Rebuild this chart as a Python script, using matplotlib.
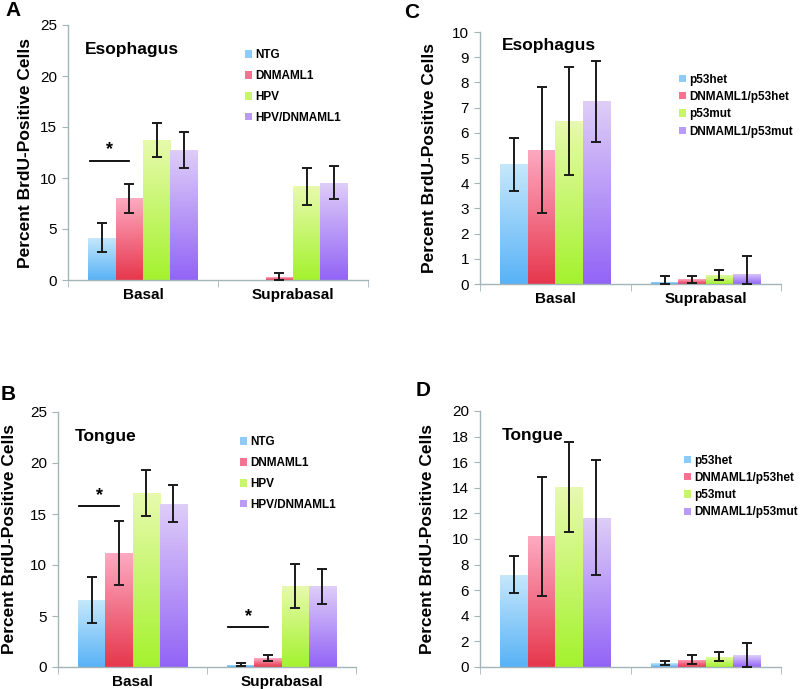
import numpy as np
import matplotlib
matplotlib.use("Agg")
from matplotlib import pyplot as plt
from matplotlib.colors import LinearSegmentedColormap
from matplotlib.patches import Patch

plt.rcParams['font.family'] = ['Liberation Sans', 'DejaVu Sans']

categories = ["Basal", "Suprabasal"]

# panel A - esophagus, HPV series
a_groups = ["NTG", "DNMAML1", "HPV", "HPV/DNMAML1"]
a_vals = [[4.15, 8.0, 13.75, 12.75], [0.0, 0.25, 9.2, 9.55]]
a_err = [[1.45, 1.45, 1.65, 1.75], [0.0, 0.4, 1.8, 1.65]]

# panel B - tongue, HPV series
b_groups = ["NTG", "DNMAML1", "HPV", "HPV/DNMAML1"]
b_vals = [[6.55, 11.15, 17.1, 16.0], [0.22, 0.88, 7.95, 7.9]]
b_err = [[2.25, 3.15, 2.25, 1.8], [0.15, 0.25, 2.15, 1.75]]

# panel C - esophagus, p53 series
c_groups = ["p53het", "DNMAML1/p53het", "p53mut", "DNMAML1/p53mut"]
c_vals = [[4.75, 5.32, 6.48, 7.25], [0.09, 0.18, 0.36, 0.40]]
c_err = [[1.05, 2.5, 2.15, 1.6], [0.23, 0.14, 0.21, 0.73]]

# panel D - tongue, p53 series
d_groups = ["p53het", "DNMAML1/p53het", "p53mut", "DNMAML1/p53mut"]
d_vals = [[7.22, 10.2, 14.05, 11.65], [0.31, 0.55, 0.80, 0.93]]
d_err = [[1.42, 4.65, 3.5, 4.5], [0.14, 0.35, 0.37, 0.95]]

# significance bars: (category index, height)
a_sig = [(0, 11.7)]
b_sig = [(0, 15.75), (1, 3.9)]

bottoms = ["#58B2F6", "#E6374D", "#A4F22E", "#9264F6"]
tops = ["#C6E8FC", "#FDAAC2", "#E8FAAE", "#DFCEF8"]
mids = ["#8FCBF8", "#F57390", "#C8F56A", "#B99AF6"]
axis_col = "#A3B5B8"


def draw_panel(fig, rect, groups, vals, errs, ymax, ystep, title, title_xy,
               leg_xy, leg_space, letter, letter_xy, ylab_x, sig=None,
               show_xlabels=True):
    ax = fig.add_axes(rect)
    n = len(groups)
    width = 0.73 / n
    x = np.arange(len(categories))
    vals = np.array(vals)
    errs = np.array(errs)
    grad = np.linspace(0, 1, 256).reshape(-1, 1)
    for j in range(n):
        pos = x - 0.365 + width * (j + 0.5)
        cmap = LinearSegmentedColormap.from_list("g%d" % j, [bottoms[j], tops[j]])
        bars = ax.bar(pos, vals[:, j], width, color="none", edgecolor="none")
        for b in bars:
            h = b.get_height()
            if h <= 0:
                continue
            im = ax.imshow(grad, cmap=cmap, origin="lower", aspect="auto",
                           extent=[b.get_x(), b.get_x() + b.get_width(), 0, h],
                           zorder=2)
            im.set_clip_path(b)
        lo = np.minimum(errs[:, j], vals[:, j])
        keep = errs[:, j] > 0
        ax.errorbar(pos[keep], vals[keep, j], yerr=[lo[keep], errs[keep, j]],
                    fmt="none", ecolor="#1a1a1a", elinewidth=1.4,
                    capsize=3.5, capthick=1.4, zorder=3)
    if sig:
        for ci, h in sig:
            x0 = ci - 0.365 + width * 0.05
            x1 = ci - 0.365 + width * 1.5
            ax.plot([x0, x1], [h, h], color="black", lw=1.3, zorder=3)
            ax.text((x0 + x1) / 2, h + ymax * 0.01, "*", ha="center",
                    va="bottom", fontsize=13, fontweight="bold")
    ax.set_xlim(-0.5, 1.5)
    ax.set_ylim(0, ymax)
    ax.set_yticks(np.arange(0, ymax + 0.01, ystep))
    ax.set_yticklabels([str(int(v)) for v in np.arange(0, ymax + 0.01, ystep)],
                       fontsize=11)
    ax.set_xticks(x)
    if show_xlabels:
        ax.set_xticklabels(categories, fontsize=11, fontweight="bold")
    else:
        ax.set_xticklabels(["", ""])
    ax.tick_params(axis="x", which="major", length=0, pad=6)
    ax.set_xticks([-0.5, 0.5, 1.5], minor=True)
    ax.tick_params(axis="x", which="minor", length=5, color=axis_col)
    ax.tick_params(axis="y", length=4, color=axis_col, pad=4)
    for s in ["top", "right"]:
        ax.spines[s].set_visible(False)
    for s in ["left", "bottom"]:
        ax.spines[s].set_color(axis_col)
        ax.spines[s].set_linewidth(1.0)
    ax.set_ylabel("Percent BrdU-Positive Cells", fontsize=12.5,
                  fontweight="bold")
    ax.yaxis.set_label_coords(ylab_x, 0.5)
    ax.text(title_xy[0], title_xy[1], title, transform=ax.transAxes,
            fontsize=12.5, fontweight="bold", va="center", ha="left")
    handles = [Patch(facecolor=mids[j], edgecolor="none") for j in range(n)]
    leg = ax.legend(handles, groups, loc="upper left", bbox_to_anchor=leg_xy,
                    frameon=False, fontsize=8.5, handlelength=0.6,
                    handleheight=0.6, handletextpad=0.25, borderpad=0,
                    borderaxespad=0, labelspacing=leg_space)
    for t in leg.get_texts():
        t.set_fontweight("bold")
    fig.text(letter_xy[0], letter_xy[1], letter, fontsize=15,
             fontweight="bold", va="center", ha="left")
    return ax


fig = plt.figure(figsize=(8, 6.89), dpi=100)
H = 689.0

draw_panel(fig, [68 / 800, 1 - 280 / H, 300 / 800, 255 / H], a_groups,
           a_vals, a_err, 25, 5, "Esophagus", (0.057, 0.905), (0.59, 0.905),
           0.75, "A", (5 / 800, 1 - 10 / H), -0.117, sig=a_sig)
draw_panel(fig, [58 / 800, 1 - 667 / H, 298 / 800, 255 / H], b_groups,
           b_vals, b_err, 25, 5, "Tongue", (0.057, 0.905), (0.61, 0.905),
           0.75, "B", (1 / 800, 1 - 395 / H), -0.138, sig=b_sig)
draw_panel(fig, [480 / 800, 1 - 284 / H, 301 / 800, 252 / H], c_groups,
           c_vals, c_err, 10, 1, "Esophagus", (0.073, 0.945), (0.662, 0.835),
           0.45, "C", (404 / 800, 1 - 12 / H), -0.143)
draw_panel(fig, [480 / 800, 1 - 667 / H, 301 / 800, 256 / H], d_groups,
           d_vals, d_err, 20, 2, "Tongue", (0.073, 0.903), (0.678, 0.83),
           0.45, "D", (416 / 800, 1 - 390 / H), -0.150, show_xlabels=False)

fig.savefig("out.png", dpi=100)
